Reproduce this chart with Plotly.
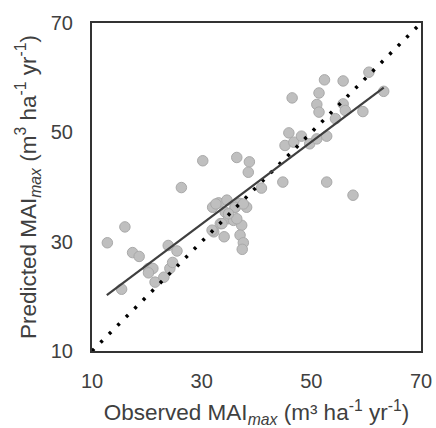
import plotly.graph_objects as go

observed = [12.8, 16.0, 15.4, 17.4, 18.6, 20.3, 21.1, 20.3, 21.5, 23.1, 23.9, 25.5, 24.2, 24.7,
            26.3, 30.2, 32.2, 32.0, 33.1, 34.6, 34.3, 33.4, 34.1, 34.9, 35.8, 36.1, 37.0, 38.2,
            37.3, 37.0, 37.6, 37.4, 36.4, 38.7, 38.5, 40.9, 44.8, 45.2, 45.9, 46.5, 46.8, 48.2,
            49.7, 51.0, 52.8, 52.8, 52.4, 51.4, 51.0, 51.4, 54.4, 55.8, 55.8, 56.2, 59.4, 57.6,
            60.5, 63.2, 31.9, 32.6, 36.1, 37.6, 36.4, 33.7, 34.9]
predicted = [29.8, 32.7, 21.3, 28.0, 27.3, 25.1, 25.1, 24.3, 22.6, 23.5, 29.3, 28.3, 25.1, 26.2,
             39.9, 44.8, 31.8, 36.3, 37.1, 37.6, 35.4, 33.3, 30.9, 34.2, 33.9, 36.3, 37.0, 36.3,
             33.0, 31.2, 29.8, 28.6, 45.4, 44.6, 42.7, 39.8, 40.9, 47.6, 49.9, 56.3, 48.2, 49.3,
             47.9, 48.8, 49.3, 40.9, 59.6, 57.2, 55.1, 53.7, 52.5, 59.4, 55.2, 54.0, 53.8, 38.5,
             61.0, 57.5, 32.1, 36.9, 36.3, 36.9, 34.2, 33.3, 35.1]

fit_x = [12.7, 63.2]
fit_y = [20.2, 58.2]
one_x = [10, 70]
one_y = [10, 70]

tick_vals = [10, 30, 50, 70]

fig = go.Figure()
fig.add_trace(go.Scatter(x=observed, y=predicted, mode="markers",
                         marker=dict(size=10.5, color="#BFBFBF",
                                     line=dict(color="#A9A9A9", width=1))))
fig.add_trace(go.Scatter(x=one_x, y=one_y, mode="lines",
                         line=dict(color="black", width=3.5, dash="3px,9px")))
fig.add_trace(go.Scatter(x=fit_x, y=fit_y, mode="lines",
                         line=dict(color="#3F3F3F", width=2.2)))

FONT = "Liberation Sans, Arial, sans-serif"
axis_common = dict(range=[10, 70], tickvals=tick_vals, showgrid=False, zeroline=False,
                   showline=True, linecolor="#333333", linewidth=2, mirror=True,
                   automargin=False,
                   ticks="", tickfont=dict(family=FONT, size=20, color="#404040"))

fig.update_layout(
    width=436, height=428,
    margin=dict(l=92, r=15, t=23, b=77),
    paper_bgcolor="white", plot_bgcolor="white",
    showlegend=False,
    font=dict(family=FONT, size=20, color="#404040"),
    xaxis=dict(**axis_common, ticklabelstandoff=11,
               title=dict(text="Observed MAI<sub><i>max</i></sub> (m³ ha<sup>-1</sup> yr<sup>-1</sup>)",
                          font=dict(family=FONT, size=22.5, color="#404040"), standoff=16)),
    yaxis=dict(**axis_common, ticklabelstandoff=13,
               title=dict(text="Predicted MAI<sub><i>max</i></sub> (m<sup>3</sup> ha<sup>-1</sup> yr<sup>-1</sup>)",
                          font=dict(family=FONT, size=22.5, color="#404040"), standoff=8)),
)

fig.write_html("out.html", config={"displayModeBar": False},
               post_script="document.body.style.margin='0';document.body.style.overflow='hidden';")
